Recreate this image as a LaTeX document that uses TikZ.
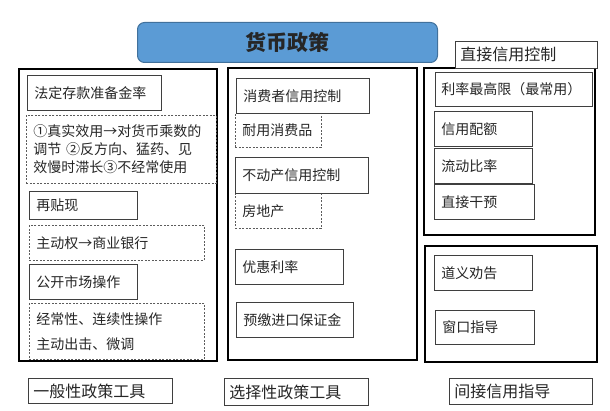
\documentclass[tikz,border=0pt]{standalone}
\usepackage{fontspec}
\newfontfamily\cjk{Noto Sans CJK SC}
\usepackage{xcolor}
\usetikzlibrary{positioning}
\definecolor{ink}{HTML}{262626}
\definecolor{edge}{HTML}{3F3F3F}
\definecolor{tBlue}{HTML}{5B9BD5}
\definecolor{tEdge}{HTML}{41719C}
\tikzset{
  txt/.style={font=\cjk\fontsize{14}{18}\selectfont, text=ink, align=left, anchor=north west, inner xsep=7pt, inner ysep=0pt},
  solidbox/.style={txt, draw=edge, line width=0.9pt, fill=white},
  dashbox/.style={txt, draw=edge!85, dashed, dash pattern=on 2pt off 1.5pt, line width=0.8pt},
  group/.style={draw=black, line width=2pt, anchor=north west, inner sep=0pt},
  tag/.style={txt, font=\cjk\fontsize{16}{20}\selectfont, draw=edge, line width=0.9pt, inner xsep=5pt, fill=white},
  headline/.style={font=\cjk\bfseries\fontsize{21}{24}\selectfont, text=ink, fill=tBlue, draw=tEdge, line width=1pt, rounded corners=7pt, anchor=north west},
}

\begin{document}
\begin{tikzpicture}[x=1pt, y=-1pt]
\useasboundingbox (0,0) rectangle (610,411);
% title
\node[headline, minimum width=300pt, minimum height=40pt] (hbzc) at (137,22) {货币政策};
% the three groups
\node[group, minimum width=198pt, minimum height=292pt] (ybx) at (18,68) {};
\node[group, minimum width=189pt, minimum height=292pt] (xzx) at (227,67) {};
\node[group, minimum width=171pt, minimum height=167pt] (zjxy) at (423,67) {};
\node[group, minimum width=172pt, minimum height=116pt] (jjxy) at (424,245) {};
% general tools
\node[solidbox, text width=120pt, minimum height=35pt] (fdck) at (27,75) {法定存款准备金率};
\node[dashbox, text width=176pt, minimum height=68pt] (fdckNote) at (26,115) {①真实效用→对货币乘数的\\调节 ②反方向、猛药、见\\效慢时滞长③不经常使用};
\node[solidbox, text width=94pt, minimum height=28pt] (txj) at (29,191) {再贴现};
\node[dashbox, text width=161pt, minimum height=35pt] (txjNote) at (29,225) {主动权→商业银行};
\node[solidbox, text width=94pt, minimum height=35pt] (gksc) at (29,264) {公开市场操作};
\node[dashbox, text width=161pt, minimum height=56pt] (gkscNote) at (29,303) {经常性、连续性操作\\[7pt]主动出击、微调};
% selective tools
\node[dashbox, text width=72pt, minimum height=34pt] (xfzNote) at (235,113) {耐用消费品};
\node[solidbox, text width=119pt, minimum height=35pt] (xfz) at (236,78) {消费者信用控制};
\node[dashbox, text width=72pt, minimum height=35pt] (bdcNote) at (235,193) {房地产};
\node[solidbox, text width=119pt, minimum height=36pt] (bdc) at (235,157) {不动产信用控制};
\node[solidbox, text width=94pt, minimum height=35pt] (yhll) at (235,249) {优惠利率};
\node[solidbox, text width=103pt, minimum height=35pt] (yjjk) at (236,302) {预缴进口保证金};
% direct credit control
\node[tag, text width=132pt, minimum height=27pt] (zjxyTag) at (455,41) {直接信用控制};
\node[solidbox, text width=145pt, minimum height=34pt, inner xsep=6pt] (llzg) at (435,72) {利率最高限（最常用）};
\node[solidbox, text width=84pt, minimum height=35pt] (xype) at (434,111) {信用配额};
\node[solidbox, text width=84pt, minimum height=35pt] (ldbl) at (434,148) {流动比率};
\node[solidbox, text width=86pt, minimum height=35pt] (zjgy) at (434,184) {直接干预};
% indirect credit guidance
\node[solidbox, text width=84pt, minimum height=35pt] (dyqg) at (434,255) {道义劝告};
\node[solidbox, text width=85pt, minimum height=34pt] (ckzd) at (435,310) {窗口指导};
% captions
\node[tag, text width=134pt, minimum height=25pt] (ybxTag) at (28,378) {一般性政策工具};
\node[tag, text width=134pt, minimum height=27pt] (xzxTag) at (224,378) {选择性政策工具};
\node[tag, text width=133pt, minimum height=26pt] (jjxyTag) at (449,378) {间接信用指导};
\end{tikzpicture}
\end{document}
